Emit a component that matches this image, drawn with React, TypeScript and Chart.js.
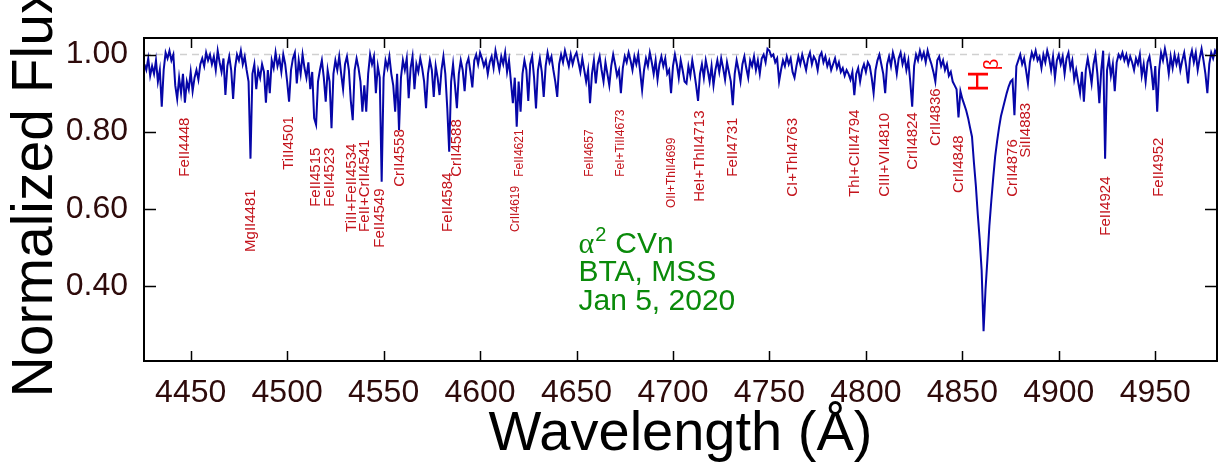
import React, { useEffect, useRef } from 'react';
import { Chart, registerables } from 'chart.js';

Chart.register(...registerables);

// ---------------- data ----------------
// spectrum sampled every 1 Å starting at 4426 Å (normalized flux read off the picture)
const START_WL = 4426;
const STEP_WL = 1;
const FLUX = [
  0.975, 0.96, 0.99, 0.945, 0.97, 0.95, 0.985, 0.93, 0.96, 0.865,
  0.96, 1.005, 0.99, 1.01, 0.985, 1.0, 0.92, 0.885, 0.94, 0.9,
  0.95, 0.875, 0.93, 0.91, 0.955, 0.905, 0.94, 0.96, 0.935, 0.975,
  0.99, 0.97, 1.005, 0.985, 1.0, 0.975, 0.995, 0.96, 1.01, 0.98,
  0.955, 0.99, 0.895, 0.97, 0.995, 0.96, 0.885, 0.965, 1.0, 0.985,
  1.01, 0.975, 0.995, 0.96, 0.93, 0.73, 0.95, 0.975, 0.91, 0.96,
  0.94, 0.975, 0.955, 0.875, 0.96, 0.9, 0.985, 0.965, 1.005, 0.97,
  0.99, 0.955, 1.0, 0.975, 0.93, 0.878, 0.96, 0.99, 1.005, 0.925,
  0.985, 0.95, 1.0, 0.965, 0.94, 0.98, 0.91, 0.955, 0.835, 0.818,
  0.93, 0.96, 0.985, 0.94, 0.878, 0.96, 0.93, 0.809, 0.95, 0.985,
  0.96, 0.995, 0.95, 0.91, 0.975, 0.995, 0.96, 0.88, 0.83, 0.96,
  0.99, 0.965, 0.93, 0.852, 0.92, 0.852, 0.95, 1.0, 0.975, 0.995,
  0.9, 0.97, 0.94, 0.67, 0.94, 0.985, 0.965, 0.995, 0.95, 0.92,
  0.852, 0.95, 0.804, 0.94, 0.985, 0.96, 0.99, 0.887, 0.965, 0.995,
  0.91, 0.975, 0.955, 0.99, 0.965, 0.93, 0.861, 0.95, 0.985, 0.96,
  0.89, 0.97, 0.94, 0.895, 0.96, 0.995, 0.95, 0.861, 0.748, 0.93,
  0.975, 0.92, 0.861, 0.95, 0.985, 0.96, 0.905, 0.975, 0.99, 0.955,
  0.915, 0.985, 1.0, 0.975, 1.005, 0.99, 0.97, 0.985, 0.95, 0.98,
  0.995, 0.965, 1.01, 0.985, 0.96, 0.995, 0.975, 1.005, 0.955, 0.985,
  0.93, 0.874, 0.94, 0.813, 0.93, 0.852, 0.95, 0.985, 0.96, 0.88,
  0.975, 0.995, 0.94, 0.86, 0.96, 0.99, 0.955, 0.89, 0.97, 1.005,
  0.98, 0.995, 0.96, 0.93, 0.89, 0.975, 1.0, 0.98, 1.01, 0.99,
  0.97, 1.0, 0.975, 0.995, 1.005, 0.98, 0.955, 0.99, 0.96, 0.93,
  0.96, 0.874, 0.95, 0.985, 0.925, 0.975, 0.995, 0.96, 0.93, 0.98,
  0.95, 0.92, 0.97, 1.0, 0.975, 0.945, 0.96, 0.9, 0.965, 0.995,
  0.98, 1.005, 0.985, 0.96, 0.995, 0.975, 1.0, 0.955, 0.908, 0.96,
  0.99, 0.97, 1.005, 0.98, 0.95, 0.985, 0.935, 0.975, 0.995, 0.97,
  0.99, 0.95, 0.96, 0.9, 0.97, 1.0, 0.975, 0.94, 0.985, 0.96,
  0.93, 0.925, 0.97, 0.945, 0.985, 0.955, 0.92, 0.88, 0.95, 0.975,
  0.94, 0.985, 0.96, 0.93, 0.97, 0.92, 0.96, 0.985, 0.955, 0.99,
  0.965, 0.935, 0.98, 0.955, 0.93, 0.869, 0.95, 0.985, 0.96, 0.93,
  0.975, 0.995, 0.965, 0.94, 0.985, 0.97, 0.995, 0.96, 0.985, 0.95,
  0.99, 1.0, 0.98, 1.015, 1.01, 0.995, 1.0, 0.98, 0.99, 0.93,
  0.96, 0.985, 0.97, 0.995, 0.975, 0.99, 0.955, 0.94, 0.97, 0.995,
  0.975, 1.0, 0.98, 0.96, 0.99, 1.005, 0.975, 0.995, 0.985, 0.96,
  0.995, 1.005, 0.98, 0.995, 0.97, 0.985, 0.96, 0.975, 0.99, 0.965,
  0.98, 0.955, 0.965, 0.945, 0.96, 0.95, 0.935, 0.955, 0.895, 0.95,
  0.965, 0.93, 0.96, 0.975, 0.955, 0.98, 0.97, 0.94, 0.9, 0.96,
  0.985, 1.0, 0.975, 0.95, 0.9, 0.975, 0.995, 0.97, 1.005, 0.985,
  0.95, 0.99, 1.005, 0.975, 0.995, 0.96, 0.985, 0.93, 0.865, 0.97,
  1.0, 0.985, 1.01, 0.99, 1.005, 0.98, 1.01, 0.99, 0.975, 0.955,
  0.93, 0.985, 0.995, 0.97, 0.985, 0.96, 0.975, 0.945, 0.955, 0.93,
  0.92, 0.91, 0.837, 0.905, 0.885, 0.87, 0.855, 0.835, 0.81, 0.787,
  0.72, 0.66, 0.585, 0.52, 0.44, 0.282, 0.39, 0.47, 0.555, 0.62,
  0.68, 0.735, 0.775, 0.81, 0.84, 0.86, 0.88, 0.9, 0.917, 0.93,
  0.935, 0.843, 0.97, 0.985, 1.0, 0.975, 0.99, 0.96, 0.925, 0.98,
  1.005, 0.99, 1.01, 0.985, 0.995, 0.965, 1.0, 0.98, 1.01, 0.99,
  0.96, 0.995, 0.94, 0.985, 1.0, 0.975, 0.995, 0.95, 0.99, 1.005,
  0.965, 0.985, 0.935, 0.96, 0.93, 0.9, 0.955, 0.878, 0.96, 0.99,
  0.96, 0.925, 0.975, 1.0, 0.95, 0.874, 0.96, 1.01, 0.73, 0.96,
  0.99, 0.945, 0.975, 0.905, 0.98, 1.0, 0.99, 1.005, 0.985, 1.0,
  0.975, 0.995, 0.98, 0.96, 0.99, 0.975, 1.0, 0.945, 0.975, 0.93,
  0.98, 0.995, 0.96, 0.908, 0.97, 0.852, 0.96, 1.005, 0.985, 1.015,
  0.99, 0.95, 0.995, 0.965, 1.0, 0.975, 0.995, 0.96, 0.985, 1.005,
  0.97, 0.925, 0.99, 1.01, 0.98, 1.005, 0.96, 0.99, 1.015, 0.985,
  0.95, 0.9, 0.975, 1.005, 0.99, 1.01, 1.0,
];

const X_TICKS = [4450, 4500, 4550, 4600, 4650, 4700, 4750, 4800, 4850, 4900, 4950];
const Y_TICKS = [0.4, 0.6, 0.8, 1.0];
const X_RANGE = [4425.8, 4982];
const Y_RANGE = [0.205, 1.043];

// line identifications
const LINE_NAMES = [
  'FeII4448', 'MgII4481', 'TiII4501', 'FeII4515', 'FeII4523', 'TiII+FeII4534',
  'FeII+CrII4541', 'FeII4549', 'CrII4558', 'FeII4584', 'CrII4588', 'CrII4619',
  'FeII4621', 'FeII4657', 'FeI+TiII4673', 'OII+ThII4699', 'HeI+ThII4713', 'FeII4731',
  'CI+ThI4763', 'ThI+CIII4794', 'CIII+VII4810', 'CrII4824', 'CrII4836', 'CrII4848',
  'CrII4876', 'SiII4883', 'FeII4924', 'FeII4952',
];
const LINE_WL = [
  4447.0, 4481.1, 4501.0, 4514.8, 4522.2, 4533.8,
  4540.4, 4548.1, 4558.5, 4583.5, 4587.9, 4618.6,
  4620.3, 4656.6, 4673.1, 4699.4, 4713.7, 4731.3,
  4762.4, 4794.4, 4809.9, 4824.1, 4836.2, 4848.3,
  4876.4, 4883.0, 4924.3, 4952.0,
];
// flux level where each (vertical) label starts
const LINE_LABEL_Y = [
  0.683, 0.488, 0.701, 0.605, 0.605, 0.540,
  0.540, 0.499, 0.657, 0.540, 0.683, 0.540,
  0.683, 0.683, 0.683, 0.602, 0.618, 0.683,
  0.631, 0.631, 0.631, 0.701, 0.763, 0.641,
  0.631, 0.732, 0.530, 0.631,
];
const HBETA_WL = 4859.2;
const HBETA_LABEL_Y = 0.903;

const NOTE_LINES = ['CVn', 'BTA, MSS', 'Jan 5, 2020'];
const NOTE_POS = [4651, 0.486];

// ---------------- styles ----------------
const FONT = "'Liberation Sans', Arial, Helvetica, sans-serif";
const SMALL_LABELS = new Set(['CrII4619', 'FeII4621', 'FeII4657', 'FeI+TiII4673', 'OII+ThII4699']);
const LABEL_COLOR = '#c3141c';
const TICK_COLOR = '#2e0b0b';

const decor = {
  id: 'decor',
  beforeDatasetsDraw(chart: any) {
    const { ctx, chartArea: a, scales } = chart;
    const py = scales.y.getPixelForValue(1);
    ctx.save();
    ctx.strokeStyle = '#d0d0d0';
    ctx.lineWidth = 1.5;
    ctx.setLineDash([7, 5]);
    ctx.beginPath();
    ctx.moveTo(a.left, py);
    ctx.lineTo(a.right, py);
    ctx.stroke();
    ctx.restore();
  },
  afterDatasetsDraw(chart: any) {
    const { ctx, chartArea: a, scales } = chart;
    const xs = scales.x;
    const ys = scales.y;
    ctx.save();

    // frame
    ctx.strokeStyle = '#000';
    ctx.lineWidth = 2;
    ctx.strokeRect(a.left, a.top, a.right - a.left, a.bottom - a.top);

    // inward ticks on all four sides
    ctx.lineWidth = 1.5;
    ctx.beginPath();
    X_TICKS.forEach((v) => {
      const px = Math.round(xs.getPixelForValue(v)) + 0.5;
      ctx.moveTo(px, a.bottom);
      ctx.lineTo(px, a.bottom - 10);
      ctx.moveTo(px, a.top);
      ctx.lineTo(px, a.top + 10);
    });
    Y_TICKS.forEach((v) => {
      const py = Math.round(ys.getPixelForValue(v)) + 0.5;
      ctx.moveTo(a.left, py);
      ctx.lineTo(a.left + 12, py);
      ctx.moveTo(a.right, py);
      ctx.lineTo(a.right - 12, py);
    });
    ctx.stroke();

    // line identifications
    ctx.fillStyle = LABEL_COLOR;
    ctx.textAlign = 'left';
    ctx.textBaseline = 'middle';
    LINE_NAMES.forEach((name, i) => {
      const px = xs.getPixelForValue(LINE_WL[i]);
      const py = ys.getPixelForValue(LINE_LABEL_Y[i]);
      ctx.save();
      ctx.translate(px, py);
      ctx.rotate(-Math.PI / 2);
      ctx.font = `${SMALL_LABELS.has(name) ? 12 : 15}px ${FONT}`;
      ctx.fillText(name, 0, 0);
      ctx.restore();
    });

    // H beta
    {
      const px = xs.getPixelForValue(HBETA_WL);
      const py = ys.getPixelForValue(HBETA_LABEL_Y);
      ctx.save();
      ctx.translate(px, py);
      ctx.rotate(-Math.PI / 2);
      ctx.fillStyle = '#ff0000';
      ctx.font = `30px ${FONT}`;
      ctx.fillText('H', 0, 0);
      const w = ctx.measureText('H').width;
      ctx.font = `20px ${FONT}`;
      ctx.fillText('β', w, 12);
      ctx.restore();
    }

    // object note
    {
      const px = xs.getPixelForValue(NOTE_POS[0]);
      const py = ys.getPixelForValue(NOTE_POS[1]);
      ctx.fillStyle = '#0a8a0a';
      ctx.textAlign = 'left';
      ctx.textBaseline = 'alphabetic';
      ctx.font = `30px 'Liberation Serif', serif`;
      ctx.fillText('α', px, py);
      let x = px + ctx.measureText('α').width + 1;
      ctx.font = `20px ${FONT}`;
      ctx.fillText('2', x, py - 12);
      x += ctx.measureText('2').width + 9;
      ctx.font = `30px ${FONT}`;
      ctx.fillText(NOTE_LINES[0], x, py);
      ctx.fillText(NOTE_LINES[1], px, py + 28.5);
      ctx.fillText(NOTE_LINES[2], px, py + 57);
    }

    // axis titles
    ctx.fillStyle = '#000';
    ctx.textAlign = 'center';
    ctx.textBaseline = 'alphabetic';
    ctx.font = `56px ${FONT}`;
    ctx.fillText('Wavelength (Å)', (a.left + a.right) / 2, a.bottom + 89);
    ctx.save();
    ctx.translate(a.left - 92, (a.top + a.bottom) / 2 - 8);
    ctx.rotate(-Math.PI / 2);
    ctx.font = `57px ${FONT}`;
    ctx.fillText('Normalized Flux', 0, 0);
    ctx.restore();

    ctx.restore();
  },
};

export default function App() {
  const ref = useRef<HTMLCanvasElement>(null);

  useEffect(() => {
    const points = FLUX.map((f, i) => ({ x: START_WL + i * STEP_WL, y: f }));
    const chart = new Chart(ref.current as HTMLCanvasElement, {
      type: 'line',
      data: {
        datasets: [
          {
            data: points,
            borderColor: '#0606a8',
            borderWidth: 2,
            pointRadius: 0,
            tension: 0,
            fill: false,
          },
        ],
      },
      options: {
        animation: false,
        responsive: false,
        devicePixelRatio: 1,
        layout: { padding: { top: 38, right: 11, left: 0, bottom: 0 } },
        plugins: { legend: { display: false }, tooltip: { enabled: false } },
        scales: {
          x: {
            type: 'linear',
            min: X_RANGE[0],
            max: X_RANGE[1],
            afterBuildTicks: (s: any) => {
              s.ticks = X_TICKS.map((v) => ({ value: v }));
            },
            afterFit: (s: any) => {
              s.height = 114;
            },
            grid: { display: false, drawTicks: false },
            border: { display: false },
            ticks: {
              autoSkip: false,
              maxRotation: 0,
              padding: 13,
              color: TICK_COLOR,
              font: { family: FONT, size: 32 },
              callback: (v: any) => String(v),
            },
          },
          y: {
            type: 'linear',
            min: Y_RANGE[0],
            max: Y_RANGE[1],
            afterBuildTicks: (s: any) => {
              s.ticks = Y_TICKS.map((v) => ({ value: v }));
            },
            afterFit: (s: any) => {
              s.width = 144;
            },
            grid: { display: false, drawTicks: false },
            border: { display: false },
            ticks: {
              padding: 16,
              color: TICK_COLOR,
              font: { family: FONT, size: 32 },
              callback: (v: any) => Number(v).toFixed(2),
            },
          },
        },
      },
      plugins: [decor],
    } as any);
    return () => chart.destroy();
  }, []);

  return (
    <div style={{ position: 'fixed', left: 0, top: 0, width: 1228, height: 475, background: '#fff' }}>
      <canvas ref={ref} width={1228} height={475} style={{ display: 'block' }} />
    </div>
  );
}
